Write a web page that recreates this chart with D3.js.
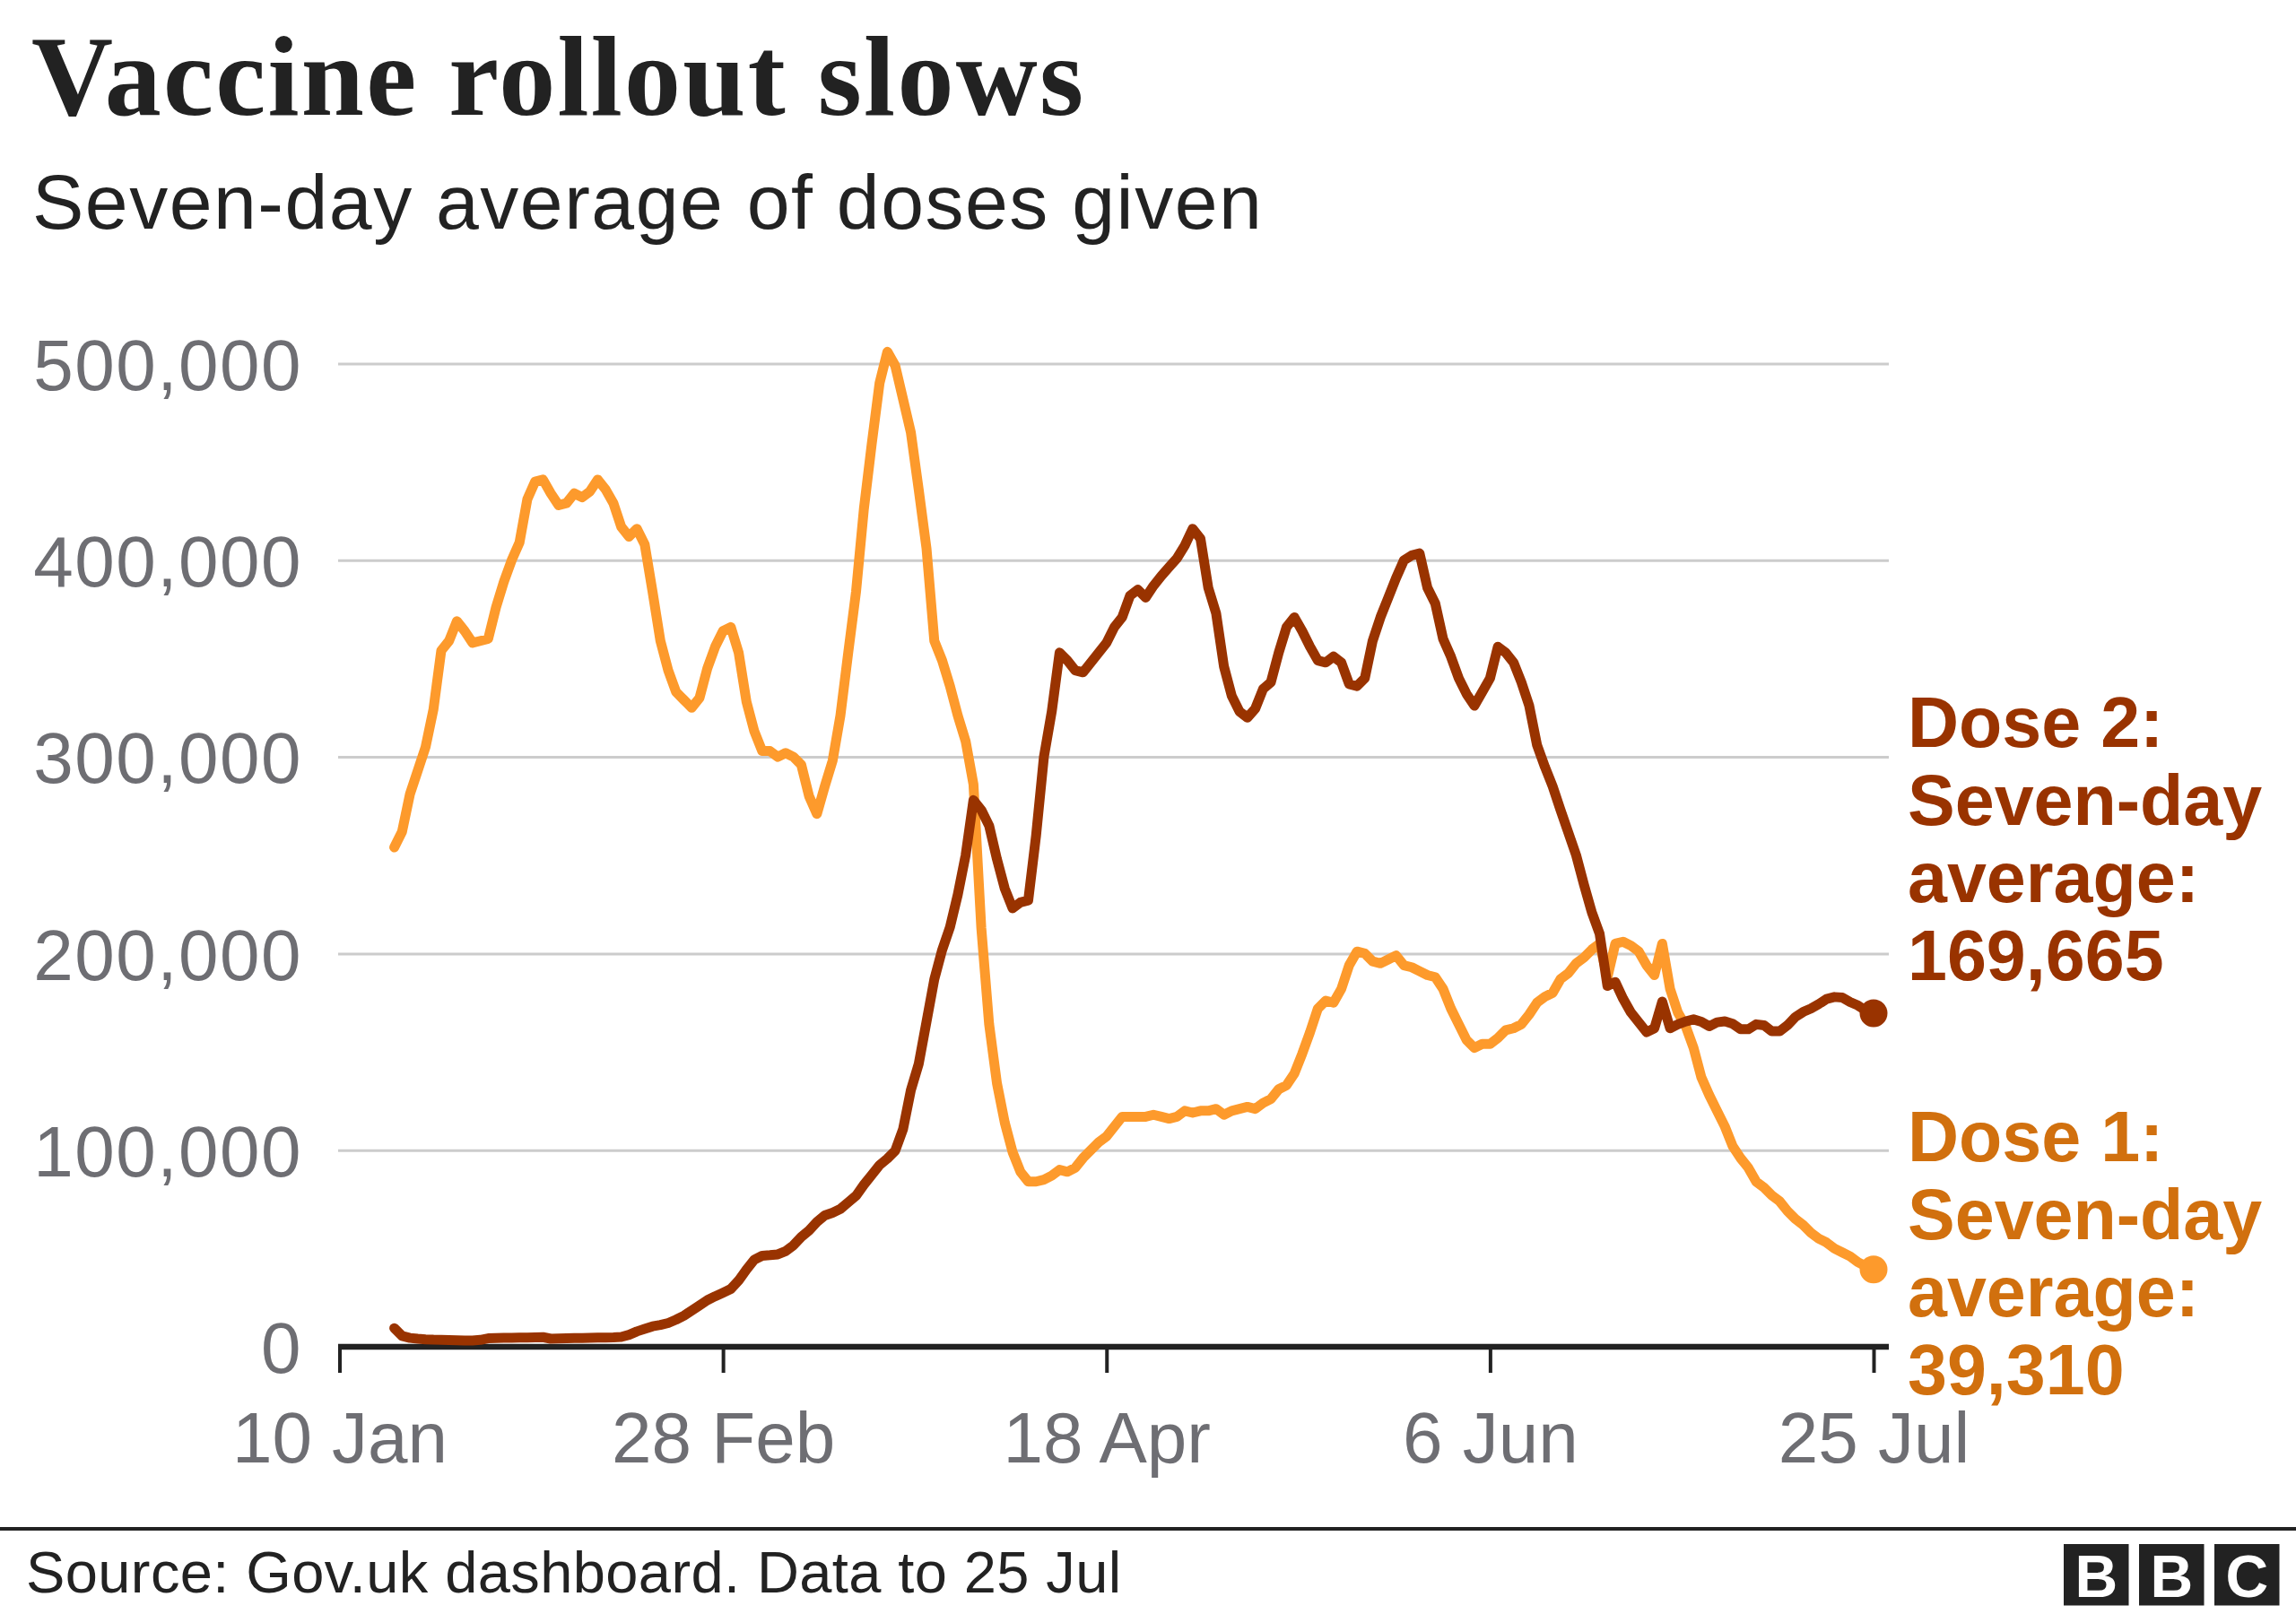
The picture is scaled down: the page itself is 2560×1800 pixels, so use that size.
<!DOCTYPE html>
<html>
<head>
<meta charset="utf-8">
<script src="https://cdn.jsdelivr.net/npm/d3@7"></script>
<style>
  html, body { margin: 0; padding: 0; background: #ffffff; }
  svg { display: block; }
</style>
</head>
<body>
<svg id="chart" width="2560" height="1800"></svg>
<script>
// ---------------- DATA ----------------
// Daily seven-day averages, 17 Jan 2021 -> 25 Jul 2021 (190 days)
const firstDay = "2021-01-17";
const lastDay = "2021-07-25";

const dose1 = [
  254000, 262000, 281000, 293000, 305000, 324000, 354000, 359000, 369000, 364000,
  358000, 359000, 360000, 376000, 389000, 400000, 409000, 431000, 440000, 441000,
  434000, 428000, 429000, 434000, 432000, 435000, 441000, 436000, 429000, 417000,
  412000, 416000, 408000, 384000, 359000, 344000, 333000, 329000, 325000, 330000,
  345000, 356000, 364000, 366000, 353000, 328000, 313000, 303000, 303000, 300000,
  302000, 300000, 296000, 280000, 271000, 285000, 298000, 321000, 353000, 384000,
  426000, 459000, 490000, 506000, 499000, 482000, 465000, 436000, 406000, 359000,
  349000, 336000, 321000, 308000, 286000, 213000, 164000, 134000, 114000, 99000,
  89000, 84000, 84000, 85000, 87000, 90000, 89000, 91000, 96000, 100000,
  104000, 107000, 112000, 117000, 117000, 117000, 117000, 118000, 117000, 116000,
  117000, 120000, 119000, 120000, 120000, 121000, 118000, 120000, 121000, 122000,
  121000, 124000, 126000, 131000, 133000, 139000, 149000, 160000, 172000, 176000,
  175000, 182000, 194000, 201000, 200000, 196000, 195000, 197000, 199000, 194000,
  193000, 191000, 189000, 188000, 182000, 172000, 164000, 156000, 152000, 154000,
  154000, 157000, 161000, 162000, 164000, 169000, 175000, 178000, 180000, 187000,
  190000, 195000, 198000, 202000, 205000, 188000, 205000, 206000, 204000, 201000,
  194000, 189000, 205000, 182000, 170000, 163000, 152000, 137000, 128000, 120000,
  112000, 102000, 96000, 91000, 84000, 81000, 77000, 74000, 69000, 65000,
  62000, 58000, 55000, 53000, 50000, 48000, 46000, 43000, 41000, 39310
];

const dose2 = [
  9500, 5500, 4500, 4100, 3800, 3600, 3500, 3400, 3300, 3200,
  3200, 3500, 4300, 4500, 4600, 4600, 4700, 4700, 4800, 4900,
  4100, 4200, 4300, 4400, 4500, 4600, 4700, 4700, 4800, 5000,
  6100, 7800, 9100, 10400, 11100, 12100, 13800, 15800, 18400, 21000,
  23700, 25700, 27500, 29400, 33700, 39300, 44300, 46300, 46600, 47000,
  48600, 51600, 55900, 59200, 63500, 66800, 68200, 70100, 73500, 76800,
  82400, 87400, 92400, 95700, 99700, 110600, 130500, 143800, 165300, 186900,
  201800, 213400, 230000, 250000, 278000, 273000, 265000, 248000, 233000, 223000,
  226000, 227000, 260000, 300000, 323000, 353000, 349000, 344000, 343000, 348000,
  353000, 358000, 366000, 371000, 382000, 385000, 381000, 387000, 392000, 396500,
  401000, 407500, 416000, 411000, 386000, 373000, 346000, 331000, 323000, 320000,
  324500, 334500, 338000, 353000, 366000, 371000, 364000, 356000, 349000, 348000,
  351000, 348000, 337000, 336000, 340000, 359000, 371000, 381000, 391000, 400000,
  402500, 403500, 386000, 378000, 360000, 351000, 340000, 332000, 326000, 333000,
  340000, 356000, 353000, 348000, 338000, 326000, 306000, 295000, 285000, 273000,
  261500, 250000, 235000, 221000, 210000, 183500, 185500, 177000, 170000, 165000,
  160000, 162000, 175500, 162000, 164000, 165500, 166500, 165300, 163000, 165000,
  165500, 164300, 161500, 161500, 164000, 163500, 160500, 160500, 163500, 167700,
  170300, 172000, 174300, 176900, 177900, 177600, 175300, 173600, 171000, 169665
];

const xTickDates = ["2021-01-10", "2021-02-28", "2021-04-18", "2021-06-06", "2021-07-25"];
const yTicks = [0, 100000, 200000, 300000, 400000, 500000];

const titleText = "Vaccine rollout slows";
const subtitleText = "Seven-day average of doses given";
const sourceText = "Source: Gov.uk dashboard. Data to 25 Jul";
const dose2Label = ["Dose 2:", "Seven-day", "average:", "169,665"];
const dose1Label = ["Dose 1:", "Seven-day", "average:", "39,310"];

// ---------------- CHART ----------------
const parse = d3.utcParse("%Y-%m-%d");
const dates = d3.utcDay.range(parse(firstDay), d3.utcDay.offset(parse(lastDay), 1));

const SANS = "'Liberation Sans', Arial, Helvetica, sans-serif";
const SERIF = "'Liberation Serif', 'Times New Roman', serif";
const C_DOSE1 = "#fd9a2c";
const C_DOSE1_TXT = "#d1700e";
const C_DOSE2 = "#993300";
const C_AXIS_TXT = "#6e6e73";
const C_DARK = "#222222";

const svg = d3.select("#chart");
svg.append("rect").attr("width", 2560).attr("height", 1800).attr("fill", "#ffffff");

const gridLeft = 377, gridRight = 2106;
const x = d3.scaleUtc()
  .domain([parse(xTickDates[0]), parse(xTickDates[xTickDates.length - 1])])
  .range([378.5, 2089]);
const y = d3.scaleLinear().domain([0, 500000]).range([1502, 405.5]);

// Title / subtitle
svg.append("text").attr("x", 35).attr("y", 128)
  .attr("font-family", SERIF).attr("font-weight", 700).attr("font-size", 126)
  .attr("letter-spacing", 2.3)
  .attr("fill", C_DARK).text(titleText);
svg.append("text").attr("x", 36).attr("y", 255)
  .attr("font-family", SANS).attr("font-size", 86).attr("letter-spacing", 1.5)
  .attr("fill", C_DARK).text(subtitleText);

// Y axis: gridlines + labels
const yAxis = d3.axisLeft(y).tickValues(yTicks).tickFormat(d3.format(","))
  .tickSize(-(gridRight - gridLeft)).tickPadding(40);
const gy = svg.append("g").attr("transform", `translate(${gridLeft},0)`).call(yAxis);
gy.select(".domain").remove();
gy.selectAll(".tick line")
  .attr("stroke", "#cccccc").attr("stroke-width", 3)
  .attr("opacity", d => d === 0 ? 0 : 1);
gy.selectAll(".tick text")
  .attr("font-family", SANS).attr("font-size", 80).attr("fill", C_AXIS_TXT)
  .attr("letter-spacing", 1.5).attr("dy", "0.36em");

// X axis
const xAxis = d3.axisBottom(x).tickValues(xTickDates.map(parse))
  .tickFormat(d3.utcFormat("%-d %b")).tickSizeInner(29).tickSizeOuter(0).tickPadding(10);
const gx = svg.append("g").attr("transform", "translate(0,1502)").call(xAxis);
gx.select(".domain").remove();
gx.selectAll(".tick line").attr("stroke", C_DARK).attr("stroke-width", 4);
gx.selectAll(".tick text")
  .attr("font-family", SANS).attr("font-size", 80).attr("fill", C_AXIS_TXT)
  .attr("y", 129).attr("dy", 0);
svg.append("line").attr("x1", gridLeft).attr("x2", gridRight)
  .attr("y1", y(0)).attr("y2", y(0))
  .attr("stroke", C_DARK).attr("stroke-width", 6.5);

// Lines
const line = d3.line().x((d, i) => x(dates[i])).y(d => y(d));
svg.append("path").datum(dose1).attr("d", line)
  .attr("fill", "none").attr("stroke", C_DOSE1).attr("stroke-width", 11)
  .attr("stroke-linejoin", "round").attr("stroke-linecap", "round");
svg.append("path").datum(dose2).attr("d", line)
  .attr("fill", "none").attr("stroke", C_DOSE2).attr("stroke-width", 11)
  .attr("stroke-linejoin", "round").attr("stroke-linecap", "round");

// End dots
const last = dates.length - 1;
svg.append("circle").attr("cx", x(dates[last])).attr("cy", y(dose1[last]))
  .attr("r", 15.5).attr("fill", C_DOSE1);
svg.append("circle").attr("cx", x(dates[last])).attr("cy", y(dose2[last]))
  .attr("r", 15.5).attr("fill", C_DOSE2);

// End labels
function endLabel(lines, baseY, color) {
  const t = svg.append("text").attr("x", 2127).attr("y", baseY)
    .attr("font-family", SANS).attr("font-weight", 700).attr("font-size", 79)
    .attr("fill", color);
  lines.forEach((s, i) => {
    t.append("tspan").attr("x", 2127).attr("y", baseY + i * 86.7).text(s);
  });
}
endLabel(dose2Label, 833, C_DOSE2);
endLabel(dose1Label, 1295, C_DOSE1_TXT);

// Footer
svg.append("rect").attr("x", 0).attr("y", 1703).attr("width", 2560).attr("height", 4)
  .attr("fill", C_DARK);
svg.append("text").attr("x", 29).attr("y", 1776)
  .attr("font-family", SANS).attr("font-size", 65).attr("letter-spacing", 0.4)
  .attr("fill", C_DARK).text(sourceText);

// BBC blocks
const bbc = ["B", "B", "C"];
const blockX = d3.scaleLinear().domain([0, 2]).range([2301, 2469]);
bbc.forEach((ch, i) => {
  svg.append("rect").attr("x", blockX(i)).attr("y", 1722).attr("width", 72.5).attr("height", 68.5)
    .attr("fill", C_DARK);
  svg.append("text").attr("x", blockX(i) + 36.25).attr("y", 1781)
    .attr("text-anchor", "middle")
    .attr("font-family", SANS).attr("font-weight", 700).attr("font-size", 66)
    .attr("fill", "#ffffff").text(ch);
});
</script>
</body>
</html>
